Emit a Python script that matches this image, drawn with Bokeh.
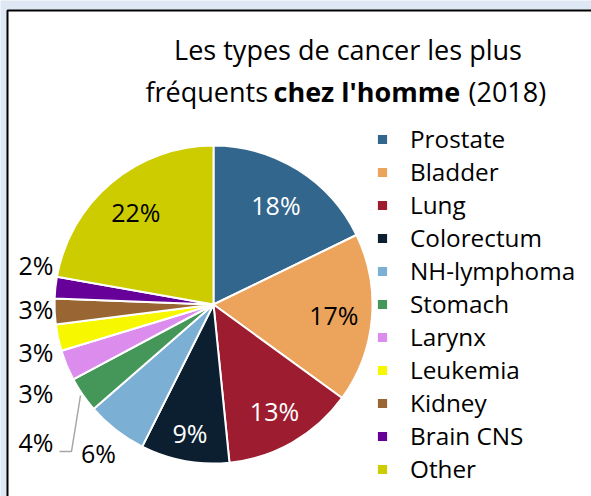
import numpy as np
from bokeh.plotting import figure
from bokeh.models import Range1d, ColumnDataSource, Legend, LegendItem
from bokeh.core.properties import value
from bokeh.embed import file_html
from bokeh.resources import INLINE

# ---- data ----
categories = ["Prostate", "Bladder", "Lung", "Colorectum", "NH-lymphoma", "Stomach",
              "Larynx", "Leukemia", "Kidney", "Brain CNS", "Other"]
shares = [17.8, 17.2, 13.4, 9.0, 6.2, 3.6, 3.1, 2.7, 2.6, 2.2, 22.2]
colors = ["#33668D", "#ECA45D", "#9D1C30", "#0B1F30", "#7BAFD4", "#449758",
          "#DC8CEC", "#F7F700", "#996633", "#660099", "#CCCC00"]
title_line1 = "Les types de cancer les plus"
title_line2 = ["fréquents", "chez l'homme", "(2018)"]

FONT = "Open Sans"
W, H = 591, 496


def Y(py):
    return H - py


p = figure(width=W, height=H, output_backend="svg", toolbar_location=None,
           x_range=Range1d(0, W), y_range=Range1d(0, H), min_border=0)
p.axis.visible = False
p.grid.visible = False
p.outline_line_color = None
p.background_fill_color = "#dde8f4"
p.border_fill_color = "#dde8f4"

# chart area
p.quad(left=[7], right=[640], top=[Y(10)], bottom=[-40],
       fill_color="white", line_color="black", line_width=2)

# ---- pie ----
vals = np.array(shares, dtype=float)
frac = vals / vals.sum()
cum = np.cumsum(frac)
start = np.pi / 2 - 2 * np.pi * (cum - frac)
end = np.pi / 2 - 2 * np.pi * cum
mid = (start + end) / 2
cx, cy, R = 213, Y(304), 159

src = ColumnDataSource(dict(cat=categories, val=shares, start=start, end=end, color=colors))
wr = p.wedge(x=cx, y=cy, radius=R, start_angle="start", end_angle="end", direction="clock",
             fill_color="color", line_color="white", line_width=2, source=src)

# ---- data labels ----
labels = [f"{round(v)}%" for v in shares]
inside_r = {0: 0.74, 1: 0.76, 2: 0.77, 3: 0.82, 10: 0.76}
label_col = {0: "white", 1: "black", 2: "white", 3: "white", 10: "black"}
ix, iy, it, ic = [], [], [], []
for i, rf in inside_r.items():
    ix.append(cx + R * rf * np.cos(mid[i]))
    iy.append(cy + R * rf * np.sin(mid[i]))
    it.append(labels[i])
    ic.append(label_col[i])
p.text(x=ix, y=iy, text=it, text_color=ic, text_font=value(FONT), text_font_size="25px",
       text_align="center", text_baseline="middle")

# outside labels (NH-lymphoma near its slice; small ones stacked on the left)
nh = 4
p.text(x=[cx + R * 1.18 * np.cos(mid[nh])], y=[cy + R * 1.18 * np.sin(mid[nh])], text=[labels[nh]],
       text_color="black", text_font=value(FONT), text_font_size="25px",
       text_align="center", text_baseline="middle")
left_idx = [9, 8, 7, 6, 5]
left_y = [264, 308, 351, 392, 441]
p.text(x=[53] * 5, y=[Y(v) for v in left_y], text=[labels[i] for i in left_idx],
       text_color="black", text_font=value(FONT), text_font_size="25px",
       text_align="right", text_baseline="middle")
# leader line for Stomach label
p.line(x=[59, 71, 80], y=[Y(451), Y(451), Y(395)], line_color="#a6a6a6", line_width=1.5)

# ---- title ----
p.text(x=[347.5], y=[Y(49)], text=[title_line1], text_font=value(FONT), text_font_size="27px",
       text_align="center", text_baseline="alphabetic", text_color="black")
t2x = [145, 273, 468]
styles = ["normal", "bold", "normal"]
for xx, tt, st in zip(t2x, title_line2, styles):
    p.text(x=[xx], y=[Y(91)], text=[tt], text_font=value(FONT), text_font_size="27px",
           text_font_style=st, text_align="left", text_baseline="alphabetic", text_color="black")

# ---- legend ----
items = [LegendItem(label=c, renderers=[wr], index=i) for i, c in enumerate(categories)]
legend = Legend(items=items, location=(375, 11), glyph_width=14, glyph_height=14,
                label_text_font=FONT, label_text_font_size="24.3px", label_text_color="black",
                label_standoff=21, spacing=0, padding=0, margin=0, border_line_color=None,
                background_fill_alpha=0, label_height=30)
p.add_layout(legend)

open("out.html", "w").write(file_html(p, INLINE))
